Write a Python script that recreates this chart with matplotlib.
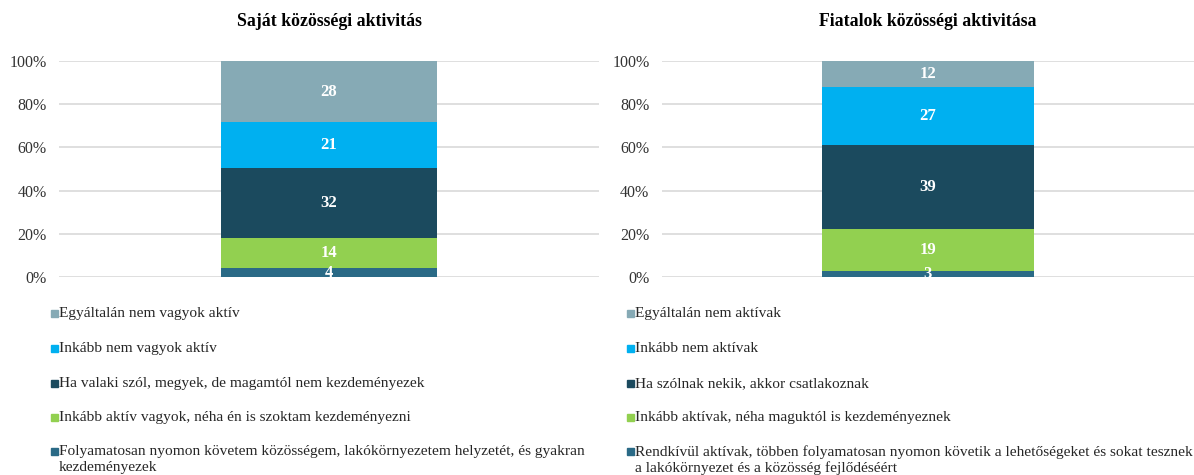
import matplotlib
matplotlib.use("Agg")
import matplotlib.pyplot as plt
from matplotlib.patches import Rectangle

plt.rcParams['font.family'] = ['Liberation Serif', 'DejaVu Serif']

# ---- data ----
titles = ["Saját közösségi aktivitás", "Fiatalok közösségi aktivitása"]
# values bottom -> top
own_values = [4, 14, 32, 21, 28]
youth_values = [3, 19, 39, 27, 12]
own_labels = [
    "Folyamatosan nyomon követem közösségem, lakókörnyezetem helyzetét, és gyakran\nkezdeményezek",
    "Inkább aktív vagyok, néha én is szoktam kezdeményezni",
    "Ha valaki szól, megyek, de magamtól nem kezdeményezek",
    "Inkább nem vagyok aktív",
    "Egyáltalán nem vagyok aktív",
]
youth_labels = [
    "Rendkívül aktívak, többen folyamatosan nyomon követik a lehetőségeket és sokat tesznek\na lakókörnyezet és a közösség fejlődéséért",
    "Inkább aktívak, néha maguktól is kezdeményeznek",
    "Ha szólnak nekik, akkor csatlakoznak",
    "Inkább nem aktívak",
    "Egyáltalán nem aktívak",
]
y_ticks = [0, 20, 40, 60, 80, 100]
y_tick_labels = ["0%", "20%", "40%", "60%", "80%", "100%"]
colors = ["#2A6A86", "#92D050", "#1B4A5E", "#00B0F0", "#86AAB5"]

W, H = 1194, 475
fig = plt.figure(figsize=(W / 100, H / 100), dpi=100)

panels = [
    dict(values=own_values, labels=own_labels, title=titles[0],
         ax_rect=(59, 61, 599, 277), legend_x=51),
    dict(values=youth_values, labels=youth_labels, title=titles[1],
         ax_rect=(662, 61, 1194, 277), legend_x=627),
]

for p in panels:
    x0, y0, x1, y1 = p["ax_rect"]
    ax = fig.add_axes([x0 / W, 1 - y1 / H, (x1 - x0) / W, (y1 - y0) / H])
    vals = p["values"]
    total = sum(vals)
    bottom = 0.0
    for v, c in zip(vals, colors):
        h = v / total * 100
        ax.bar(0, h, width=0.4, bottom=bottom, color=c, zorder=3)
        ax.text(0, bottom + h / 2, str(v), ha="center", va="center",
                color="white", fontweight="bold", fontsize=12, zorder=4)
        bottom += h
    ax.set_xlim(-0.5, 0.5)
    ax.set_ylim(0, 100)
    ax.set_yticks(y_ticks)
    ax.set_yticklabels(y_tick_labels, fontsize=11.5, color="#333333")
    ax.set_xticks([])
    ax.tick_params(axis="y", length=0, pad=9)
    ax.yaxis.grid(True, color="#D9D9D9", linewidth=1.2, zorder=0)
    for s in ax.spines.values():
        s.set_visible(False)
    ax.patch.set_alpha(0)
    # title
    cx = (x0 + x1) / 2
    fig.text(cx / W, 1 - 22 / H, p["title"], ha="center", va="center",
             fontsize=12.8, fontweight="bold", color="#000000")
    # legend (top segment first)
    lx = p["legend_x"]
    row_y = [313, 348, 383, 417, 451]
    for i, (lab, c) in enumerate(zip(p["labels"][::-1], colors[::-1])):
        yc = row_y[i]
        fig.add_artist(Rectangle((lx / W, 1 - (yc + 3.5) / H), 7 / W, 7 / H,
                                 transform=fig.transFigure, color=c))
        fig.text((lx + 8) / W, 1 - (yc - 6) / H, lab, ha="left", va="top",
                 fontsize=11.1, color="#262626", linespacing=1.25)

fig.savefig("out.png", dpi=100)
